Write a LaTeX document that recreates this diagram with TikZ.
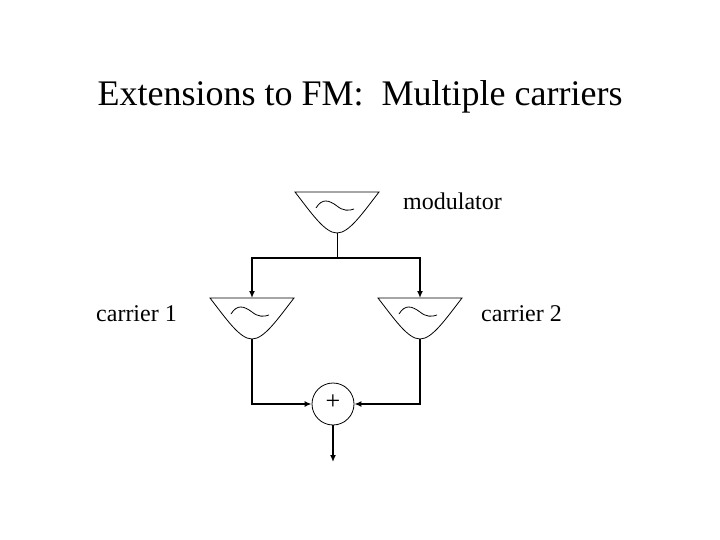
\documentclass[tikz,border=0pt]{standalone}
\usepackage{fontspec}
\setmainfont{Liberation Serif}
\usetikzlibrary{arrows.meta}
\begin{document}
\begin{tikzpicture}[x=1pt,y=-1pt,
  thick/.style={line width=2.2pt},
  arr/.style={-{Latex[length=7pt,width=6pt]}},
  lbl/.style={font=\fontsize{24}{24}\selectfont,inner sep=0pt},
  osc/.pic={
    \draw[line width=0.8pt] (-42,0) -- (42,0) .. controls (25,22) and (12,41) .. (0,41) .. controls (-12,41) and (-25,22) .. (-42,0) -- cycle;
    \draw[line width=0.8pt] (-21,16) .. controls (-15,6) and (-8,8) .. (0,14) .. controls (6,19) and (12,19) .. (17,17);
    \coordinate (-top) at (0,0);
    \coordinate (-bot) at (0,41);
  }]
\useasboundingbox (0,0) rectangle (720,540);
\fill[white] (0,0) rectangle (720,540);
\node[font=\fontsize{36}{36}\selectfont] (title) at (360,97) {Extensions to FM:\ \ Multiple carriers};
\pic (m) at (337,192) {osc};
\pic (c1) at (252,298) {osc};
\pic (c2) at (420,298) {osc};
\node[lbl,anchor=west] (ml) at (403,201) {modulator};
\node[lbl,anchor=east] (l1) at (177,314) {carrier 1};
\node[lbl,anchor=west] (l2) at (481,314) {carrier 2};
\node[draw,circle,minimum size=42pt,inner sep=0pt,line width=0.8pt] (sum) at (333,404) {};
\node[font=\fontsize{26}{26}\selectfont] (plus) at (333,402) {+};
\coordinate (split) at (337,258);
\coordinate (out) at (333,462);
\draw[line width=0.8pt] (m-bot) -- (split);
\draw[thick,arr] (split) -| (c1-top);
\draw[thick,arr] (split) -| (c2-top);
\draw[thick,arr] (c1-bot) |- (sum.west);
\draw[thick,arr] (c2-bot) |- (sum.east);
\draw[thick,arr] (sum.south) -- (out);
\end{tikzpicture}
\end{document}
